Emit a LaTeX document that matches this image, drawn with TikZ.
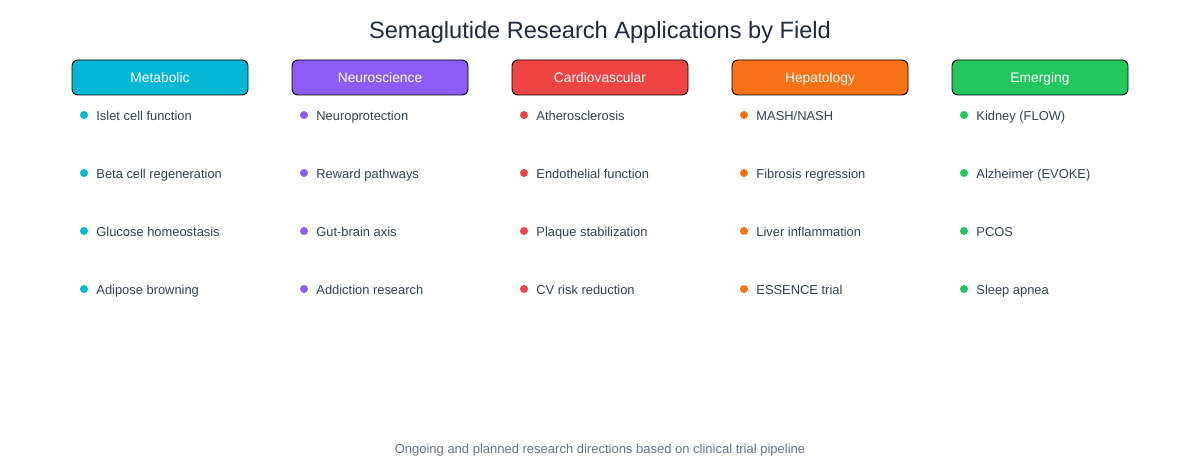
\documentclass[tikz,border=0pt]{standalone}
\usepackage{fontspec}
\setmainfont{Liberation Sans}
\usetikzlibrary{positioning}
\definecolor{metabolic}{HTML}{06B6D4}
\definecolor{neuro}{HTML}{8B5CF6}
\definecolor{cardio}{HTML}{EF4444}
\definecolor{hepato}{HTML}{F97316}
\definecolor{emerging}{HTML}{22C55E}
\definecolor{titlegray}{HTML}{1E293B}
\definecolor{itemgray}{HTML}{334155}
\definecolor{notegray}{HTML}{64748B}
\tikzset{
every picture/.style={line width=0.8pt},
%%%%%%%%%%  Node styles
header/.style={fill=#1, draw=black, line width=0.9pt, rounded corners=6pt,
               minimum width=176pt, minimum height=35pt, inner sep=0pt,
               text height=10pt, text depth=0pt,
               text=white, font=\fontsize{13.8}{16}\selectfont},
dotnode/.style={fill=#1, circle, minimum size=8pt, inner sep=0pt, outer sep=0pt},
item/.style={anchor=west, inner sep=0pt, text=itemgray,
             text height=11pt, text depth=0pt,
             font=\fontsize{12.9}{16}\selectfont},
%%%%%%% texts
title/.style={text=titlegray, font=\fontsize{23.6}{28}\selectfont},
note/.style={text=notegray, font=\fontsize{13}{15}\selectfont}
}

\begin{document}
\begin{tikzpicture}[x=1pt,y=-1pt]
\useasboundingbox[fill=white] (0,0) rectangle (1200,470);
\node[title] (title) at (600,32) {Semaglutide Research Applications by Field};
\node[note] (note) at (600,450) {Ongoing and planned research directions based on clinical trial pipeline};
%%%%%%%%%%%%%%%%%%%%%%%%%%%%%%%%%%%%%%%%%%%%%%%%%%%%
\begin{scope}[shift={(0,0)}]
\node[header=metabolic] (meta) at (160,77.5) {Metabolic};
\node[dotnode=metabolic] (m1) at (84,115) {};
\node[dotnode=metabolic] (m2) at (84,173) {};
\node[dotnode=metabolic] (m3) at (84,231) {};
\node[dotnode=metabolic] (m4) at (84,289) {};
\node[item, right=8pt of m1] (m1t) {Islet cell function};
\node[item, right=8pt of m2] (m2t) {Beta cell regeneration};
\node[item, right=8pt of m3] (m3t) {Glucose homeostasis};
\node[item, right=8pt of m4] (m4t) {Adipose browning};
\end{scope}
%%%%%%%%%%%%%%%%%%%%%%%%%%%%%%%%%%%%%%%%%%%%%%%%%%%%
\begin{scope}[shift={(220,0)}]
\node[header=neuro] (neur) at (160,77.5) {Neuroscience};
\node[dotnode=neuro] (n1) at (84,115) {};
\node[dotnode=neuro] (n2) at (84,173) {};
\node[dotnode=neuro] (n3) at (84,231) {};
\node[dotnode=neuro] (n4) at (84,289) {};
\node[item, right=8pt of n1] (n1t) {Neuroprotection};
\node[item, right=8pt of n2] (n2t) {Reward pathways};
\node[item, right=8pt of n3] (n3t) {Gut-brain axis};
\node[item, right=8pt of n4] (n4t) {Addiction research};
\end{scope}
%%%%%%%%%%%%%%%%%%%%%%%%%%%%%%%%%%%%%%%%%%%%%%%%%%%%
\begin{scope}[shift={(440,0)}]
\node[header=cardio] (card) at (160,77.5) {Cardiovascular};
\node[dotnode=cardio] (c1) at (84,115) {};
\node[dotnode=cardio] (c2) at (84,173) {};
\node[dotnode=cardio] (c3) at (84,231) {};
\node[dotnode=cardio] (c4) at (84,289) {};
\node[item, right=8pt of c1] (c1t) {Atherosclerosis};
\node[item, right=8pt of c2] (c2t) {Endothelial function};
\node[item, right=8pt of c3] (c3t) {Plaque stabilization};
\node[item, right=8pt of c4] (c4t) {CV risk reduction};
\end{scope}
%%%%%%%%%%%%%%%%%%%%%%%%%%%%%%%%%%%%%%%%%%%%%%%%%%%%
\begin{scope}[shift={(660,0)}]
\node[header=hepato] (hepa) at (160,77.5) {Hepatology};
\node[dotnode=hepato] (h1) at (84,115) {};
\node[dotnode=hepato] (h2) at (84,173) {};
\node[dotnode=hepato] (h3) at (84,231) {};
\node[dotnode=hepato] (h4) at (84,289) {};
\node[item, right=8pt of h1] (h1t) {MASH/NASH};
\node[item, right=8pt of h2] (h2t) {Fibrosis regression};
\node[item, right=8pt of h3] (h3t) {Liver inflammation};
\node[item, right=8pt of h4] (h4t) {ESSENCE trial};
\end{scope}
%%%%%%%%%%%%%%%%%%%%%%%%%%%%%%%%%%%%%%%%%%%%%%%%%%%%
\begin{scope}[shift={(880,0)}]
\node[header=emerging] (emer) at (160,77.5) {Emerging};
\node[dotnode=emerging] (e1) at (84,115) {};
\node[dotnode=emerging] (e2) at (84,173) {};
\node[dotnode=emerging] (e3) at (84,231) {};
\node[dotnode=emerging] (e4) at (84,289) {};
\node[item, right=8pt of e1] (e1t) {Kidney (FLOW)};
\node[item, right=8pt of e2] (e2t) {Alzheimer (EVOKE)};
\node[item, right=8pt of e3] (e3t) {PCOS};
\node[item, right=8pt of e4] (e4t) {Sleep apnea};
\end{scope}
\end{tikzpicture}
\end{document}
